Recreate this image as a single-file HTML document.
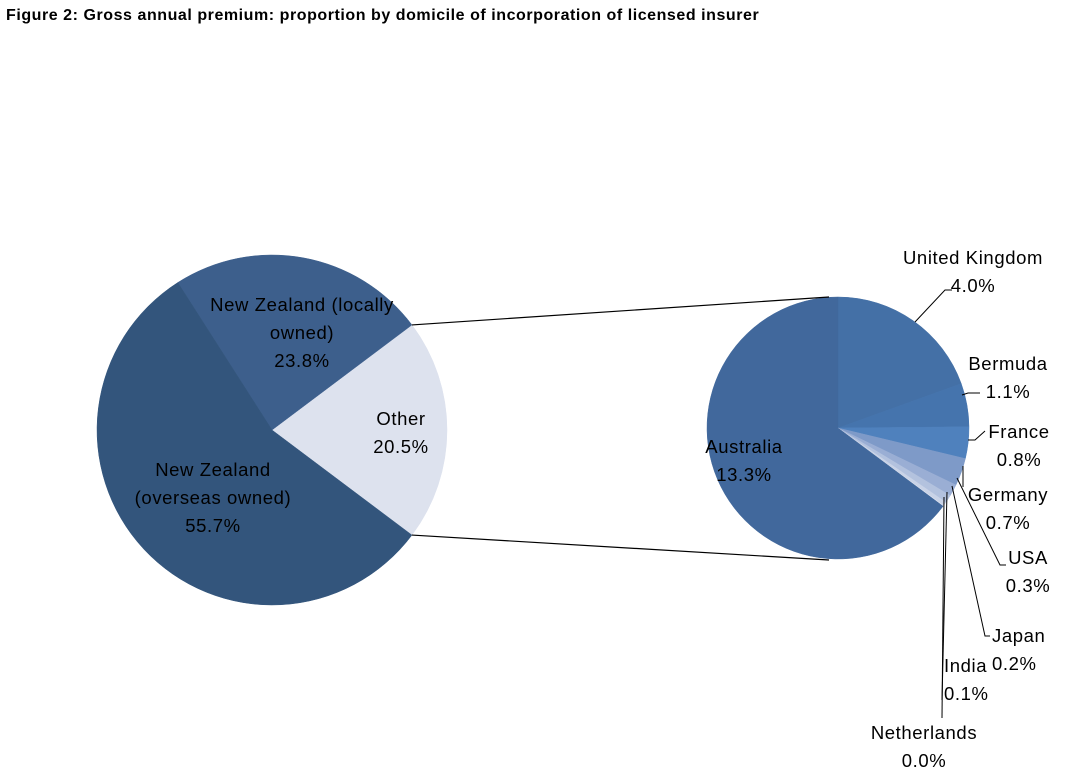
<!DOCTYPE html>
<html><head><meta charset="utf-8"><style>
body{margin:0;background:#fff;width:1069px;height:782px;overflow:hidden;font-family:"Liberation Sans",sans-serif}
#title{position:absolute;left:6px;top:7px;font-weight:bold;font-size:16px;letter-spacing:0.55px;color:#000;white-space:nowrap}
svg{position:absolute;left:0;top:0}
text{font-family:"Liberation Sans",sans-serif;font-size:18.5px;letter-spacing:0.6px;fill:#000}
</style></head><body>
<div id="title">Figure 2: Gross annual premium: proportion by domicile of incorporation of licensed insurer</div>
<svg id="chart" width="1069" height="782"></svg>
<script>
const leftCategories=["Other","New Zealand (locally owned)","New Zealand (overseas owned)"];
const leftValues=[20.5,23.8,55.7];
const rightCategories=["United Kingdom","Bermuda","France","Germany","USA","Japan","India","Netherlands","Australia"];
const rightValues=[4.0,1.1,0.8,0.7,0.3,0.2,0.1,0.02,13.3];
const rightPrinted=["4.0%","1.1%","0.8%","0.7%","0.3%","0.2%","0.1%","0.0%","13.3%"];
const NS="http://www.w3.org/2000/svg";
const svg=document.getElementById('chart');
function mk(t,a){const e=document.createElementNS(NS,t);for(const k in a)e.setAttribute(k,a[k]);svg.appendChild(e);return e;}
function pt(cx,cy,r,a){return [cx+r*Math.cos(a),cy+r*Math.sin(a)];}
function slice(cx,cy,r,a0,a1,fill){const p0=pt(cx,cy,r,a0),p1=pt(cx,cy,r,a1);const lg=(a1-a0)>Math.PI?1:0;
 return mk('path',{d:`M${cx},${cy}L${p0[0]},${p0[1]}A${r},${r} 0 ${lg} 1 ${p1[0]},${p1[1]}Z`,fill:fill,stroke:fill,'stroke-width':0.5});}
// left pie (counter-clockwise from Other)
const L={cx:272,cy:430,r:175};
const lColors=['#dde2ee','#3d5f8c','#33557c'];
const lTot=leftValues.reduce((a,b)=>a+b,0);
let a=leftValues[0]/lTot*Math.PI;
const lStart=-a;
leftValues.forEach((v,i)=>{const da=v/lTot*2*Math.PI;const s=slice(L.cx,L.cy,L.r,a-da,a,lColors[i]);
 
 a-=da;});
// right pie
const R={cx:838,cy:428,r:131};
const rColors=['#4470a6','#4574ad','#4f81bd','#7e9ac8','#9aaed4','#b3c2de','#c9d3e7','#dde2ee','#41689c'];
const rTot=rightValues.reduce((x,y)=>x+y,0);
a=-Math.PI/2;
rightValues.forEach((v,i)=>{const da=v/rTot*2*Math.PI;const s=slice(R.cx,R.cy,R.r,a,a+da,rColors[i]);
 
 a+=da;});
// connectors
const pa=pt(L.cx,L.cy,L.r,lStart),pb=pt(L.cx,L.cy,L.r,-lStart);
const c1=mk('line',{x1:pa[0],y1:pa[1],x2:829,y2:297,stroke:'#000','stroke-width':1.2});

const c2=mk('line',{x1:pb[0],y1:pb[1],x2:829,y2:560,stroke:'#000','stroke-width':1.2});

function txt(x,y,s,anchor){const t=mk('text',{x:x,y:y,'text-anchor':anchor||'middle'});t.textContent=s;return t;}
function lbl(lines,x,y,name,anchor){lines.forEach((s,i)=>{const t=txt(x,y+i*28,s,anchor);
 });}
lbl(["New Zealand (locally","owned)",leftValues[1].toFixed(1)+"%"],302,311,'label-nz-local');
lbl(["Other",leftValues[0].toFixed(1)+"%"],401,425,'label-other');
lbl(["New Zealand","(overseas owned)",leftValues[2].toFixed(1)+"%"],213,476,'label-nz-overseas');
lbl(["Australia",rightPrinted[8]],744,453,'label-australia');
lbl(["United Kingdom",rightPrinted[0]],973,264,'label-uk');
lbl(["Bermuda",rightPrinted[1]],1008,370,'label-bermuda');
lbl(["France",rightPrinted[2]],1019,438,'label-france');
lbl(["Germany",rightPrinted[3]],1008,501,'label-germany');
lbl(["USA",rightPrinted[4]],1028,564,'label-usa');
lbl(["Japan",rightPrinted[5]],992,642,'label-japan','start');
lbl(["India",rightPrinted[6]],944,672,'label-india','start');
lbl(["Netherlands",rightPrinted[7]],924,739,'label-netherlands');
const leaders=[
 "M915,322L945,290L952,290","M962,395L968,393L980,393","M968,440L975,440L985,431","M963,466L963,487",
 "M957,478L1000,565L1006,565","M952,486L985,636L990,636","M947,492L942,700","M944,497L942,718"];
leaders.forEach((d,i)=>{const p=mk('path',{d:d,fill:'none',stroke:'#000','stroke-width':1});
 });
</script>
</body></html>
